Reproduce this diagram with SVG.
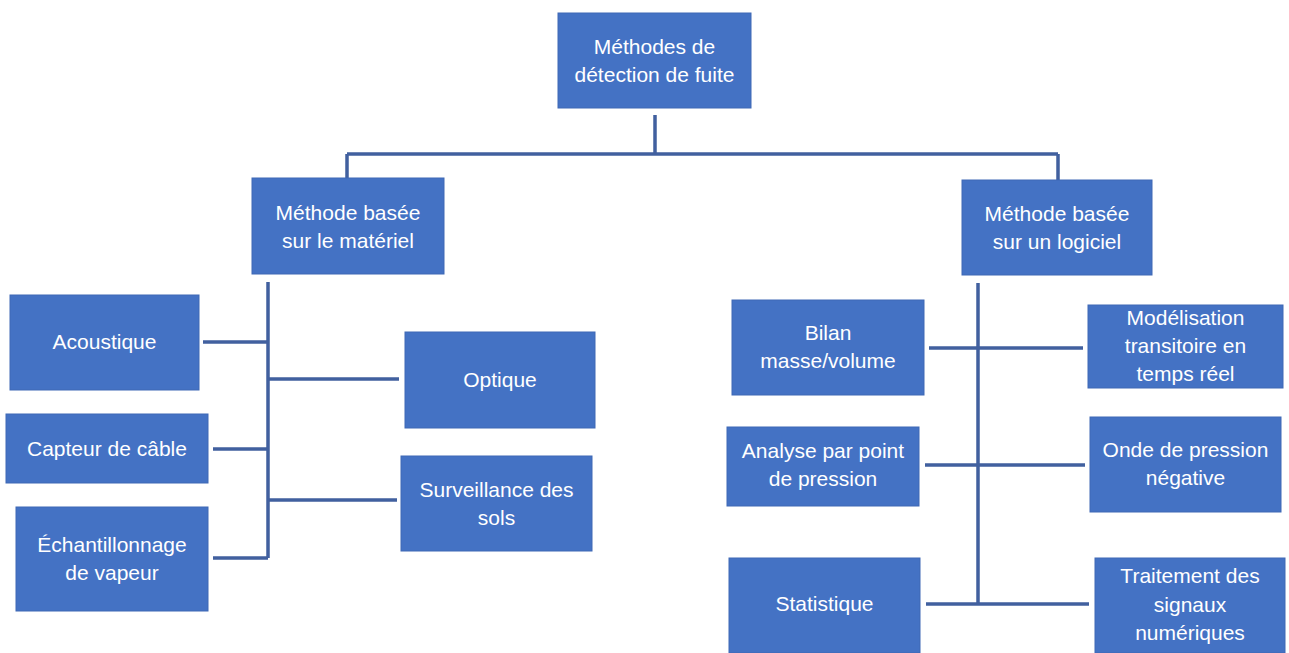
<svg xmlns="http://www.w3.org/2000/svg" width="1289" height="653" viewBox="0 0 1289 653">
<style>
.box{fill:#4472C4;stroke:#3F69B5;stroke-width:1}
.t{font-family:"Liberation Sans",Arial,sans-serif;font-size:21px;fill:#FFFFFF;text-anchor:middle}
.c{stroke:#41609F;stroke-width:3.5;fill:none;stroke-linecap:butt}
</style>
<rect width="1289" height="653" fill="#FFFFFF"/>
<g id="connectors">
<path class="c" d="M655 115V154M347 154H1058M347 154V178M1058 154V180"/>
<path class="c" d="M268 282V558M203 342H268M268 379H399M213 449H268M268 500H397M213 558H268"/>
<path class="c" d="M978 283V604M929 348H1083M925 465H1085M926 604H1089"/>
</g>
<g id="root"><rect class="box" x="558" y="13" width="193" height="95"/>
<text class="t" x="654.5" y="54">Méthodes de</text><text class="t" x="654.5" y="82">détection de fuite</text></g>
<g id="materiel"><rect class="box" x="252" y="178" width="192" height="96"/>
<text class="t" x="348" y="220">Méthode basée</text><text class="t" x="348" y="248">sur le matériel</text></g>
<g id="logiciel"><rect class="box" x="962" y="180" width="190" height="95"/>
<text class="t" x="1057" y="221">Méthode basée</text><text class="t" x="1057" y="249">sur un logiciel</text></g>
<g id="acoustique"><rect class="box" x="10" y="295" width="189" height="95"/>
<text class="t" x="104.5" y="349">Acoustique</text></g>
<g id="capteur"><rect class="box" x="6" y="414" width="202" height="69"/>
<text class="t" x="107" y="456">Capteur de câble</text></g>
<g id="echantillonnage"><rect class="box" x="16" y="507" width="192" height="104"/>
<text class="t" x="112" y="552">Échantillonnage</text><text class="t" x="112" y="580">de vapeur</text></g>
<g id="optique"><rect class="box" x="405" y="332" width="190" height="96"/>
<text class="t" x="500" y="387">Optique</text></g>
<g id="surveillance"><rect class="box" x="401" y="456" width="191" height="95"/>
<text class="t" x="496.5" y="497">Surveillance des</text><text class="t" x="496.5" y="525">sols</text></g>
<g id="bilan"><rect class="box" x="732" y="300" width="192" height="95"/>
<text class="t" x="828" y="340">Bilan</text><text class="t" x="828" y="368">masse/volume</text></g>
<g id="modelisation"><rect class="box" x="1088" y="305" width="195" height="83"/>
<text class="t" x="1185.5" y="325">Modélisation</text><text class="t" x="1185.5" y="353">transitoire en</text><text class="t" x="1185.5" y="381">temps réel</text></g>
<g id="analyse"><rect class="box" x="727" y="427" width="192" height="79"/>
<text class="t" x="823" y="458">Analyse par point</text><text class="t" x="823" y="486">de pression</text></g>
<g id="onde"><rect class="box" x="1090" y="417" width="191" height="95"/>
<text class="t" x="1185.5" y="457">Onde de pression</text><text class="t" x="1185.5" y="485">négative</text></g>
<g id="statistique"><rect class="box" x="729" y="558" width="191" height="95"/>
<text class="t" x="824.5" y="611">Statistique</text></g>
<g id="traitement"><rect class="box" x="1095" y="558" width="190" height="95"/>
<text class="t" x="1190" y="583">Traitement des</text><text class="t" x="1190" y="612">signaux</text><text class="t" x="1190" y="640">numériques</text></g>
</svg>
